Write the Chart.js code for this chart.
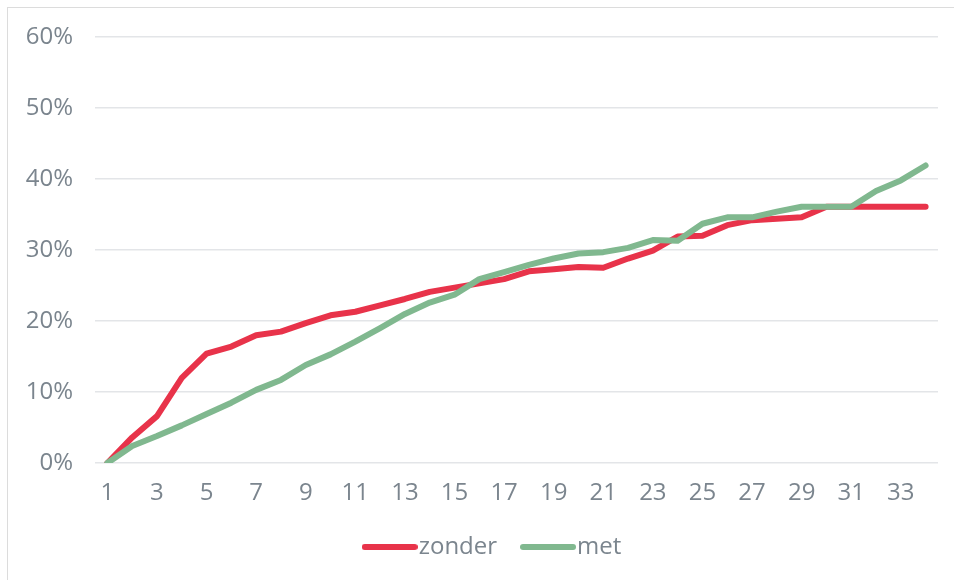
<!DOCTYPE html>
<html>
<head>
<meta charset="utf-8">
<script src="https://cdn.jsdelivr.net/npm/chart.js@4.4.1/dist/chart.umd.min.js"></script>
<style>
    html, body { margin: 0; padding: 0; background: #ffffff; }
    #wrap { position: relative; width: 954px; height: 580px; overflow: hidden; }
    #frame { position: absolute; left: 7px; top: 7px; width: 1000px; height: 600px;
             border-left: 1px solid #dcdcdc; border-top: 1px solid #dcdcdc; }
    #chart { position: absolute; left: 0; top: 0; }
</style>
</head>
<body>
<div id="wrap">
    <div id="frame"></div>
    <canvas id="chart" width="954" height="580"></canvas>
</div>
<script>
// categorieen (x-as)
const categories = ['1','2','3','4','5','6','7','8','9','10','11','12','13','14','15','16','17',
    '18','19','20','21','22','23','24','25','26','27','28','29','30','31','32','33','34'];

// waarden in procenten
const zonder = [0, 3.6, 6.6, 12.0, 15.4, 16.4, 18.0, 18.5, 19.7, 20.8, 21.3, 22.2, 23.1, 24.1, 24.7, 25.3, 25.9,
    27.0, 27.3, 27.6, 27.5, 28.8, 29.9, 31.9, 32.0, 33.5, 34.2, 34.4, 34.6, 36.1, 36.1, 36.1, 36.1, 36.1];
const met = [0, 2.4, 3.8, 5.3, 6.9, 8.5, 10.3, 11.7, 13.8, 15.3, 17.1, 19.0, 21.0, 22.6, 23.7, 25.9, 26.9,
    27.9, 28.8, 29.5, 29.7, 30.3, 31.4, 31.3, 33.7, 34.6, 34.6, 35.4, 36.1, 36.1, 36.1, 38.3, 39.8, 41.9];

const yTicks = [0, 10, 20, 30, 40, 50, 60];

const textColor = '#7b858e';
const fontFamily = "'Open Sans', sans-serif";
const redColor = '#e8334a';
const greenColor = '#80b88f';

// legendasymbool: korte dikke lijn met ronde uiteinden
function legendLine(color) {
    const c = document.createElement('canvas');
    c.width = 56;
    c.height = 8;
    const g = c.getContext('2d');
    g.strokeStyle = color;
    g.lineWidth = 6;
    g.lineCap = 'round';
    g.beginPath();
    g.moveTo(3, 4);
    g.lineTo(53, 4);
    g.stroke();
    return c;
}

// legenda iets naar rechts schuiven, zoals in het origineel
const legendShift = {
    id: 'legendShift',
    afterLayout(chart) {
        chart.legend.left += 28;
        chart.legend.right += 28;
    }
};

const ctx = document.getElementById('chart').getContext('2d');
new Chart(ctx, {
    type: 'line',
    data: {
        labels: categories,
        datasets: [
            // 'met' wordt bovenop 'zonder' getekend (lagere order = bovenop)
            { label: 'zonder', data: zonder, order: 1, borderColor: redColor, backgroundColor: redColor,
              borderWidth: 6, borderCapStyle: 'round', borderJoinStyle: 'round', pointRadius: 0,
              pointStyle: legendLine(redColor), tension: 0, fill: false },
            { label: 'met', data: met, order: 0, borderColor: greenColor, backgroundColor: greenColor,
              borderWidth: 6, borderCapStyle: 'round', borderJoinStyle: 'round', pointRadius: 0,
              pointStyle: legendLine(greenColor), tension: 0, fill: false }
        ]
    },
    plugins: [legendShift],
    options: {
        responsive: false,
        animation: false,
        layout: { padding: { left: 0, right: 16, top: 37, bottom: 11 } },
        plugins: {
            tooltip: { enabled: false },
            legend: {
                position: 'bottom',
                maxHeight: 80,
                labels: {
                    usePointStyle: true,
                    pointStyleWidth: 34,
                    padding: 34,
                    color: textColor,
                    font: { family: fontFamily, size: 24 },
                    sort: (a, b) => a.datasetIndex - b.datasetIndex
                }
            }
        },
        scales: {
            x: {
                offset: true,
                afterFit: (scale) => { scale.height = 38; },
                grid: { display: false, drawTicks: false },
                border: { display: false },
                ticks: {
                    autoSkip: false,
                    maxRotation: 0,
                    padding: 16,
                    color: textColor,
                    font: { family: fontFamily, size: 24 },
                    callback: (v, i) => (i % 2 === 0 ? categories[i] : '')
                }
            },
            y: {
                min: 0,
                max: 60,
                afterFit: (scale) => { scale.width = 95; },
                afterBuildTicks: (scale) => { scale.ticks = yTicks.map(v => ({ value: v })); },
                grid: { color: '#e3e5e8', lineWidth: 1.5, drawTicks: false },
                border: { display: false },
                ticks: {
                    padding: 22,
                    color: textColor,
                    font: { family: fontFamily, size: 24 },
                    callback: (v) => v + '%'
                }
            }
        }
    }
});
</script>
</body>
</html>
